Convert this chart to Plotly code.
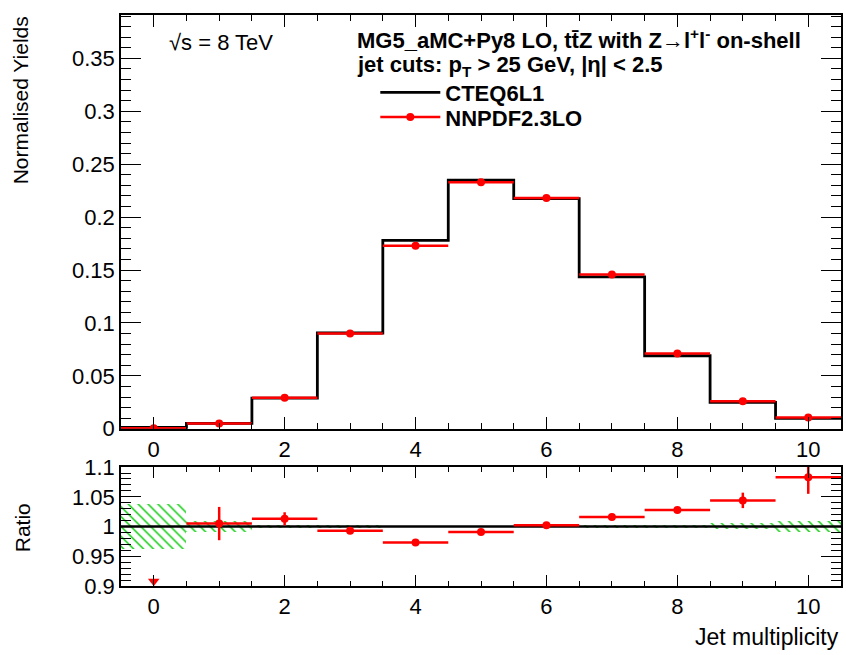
import numpy as np
import plotly.graph_objects as go

# ---------------- data ----------------
jet_mult = [0, 1, 2, 3, 4, 5, 6, 7, 8, 9, 10]
cteq6l1 = [0.0012, 0.0050, 0.0290, 0.0905, 0.1780, 0.2350, 0.2175, 0.1435, 0.0690, 0.0250, 0.0098]
nnpdf23lo = [0.0005, 0.0050, 0.0294, 0.0899, 0.1730, 0.2330, 0.2180, 0.1458, 0.0710, 0.0261, 0.0106]
ratio = [0.42, 1.005, 1.013, 0.993, 0.973, 0.991, 1.002, 1.016, 1.028, 1.044, 1.083]
ratio_err = [0.0, 0.028, 0.011, 0.002, 0.002, 0.002, 0.002, 0.002, 0.003, 0.013, 0.028]
band_err = [0.038, 0.010, 0.003, 0.002, 0.0015, 0.0015, 0.0015, 0.002, 0.003, 0.005, 0.010]
x_ticks = [0, 2, 4, 6, 8, 10]

# ---------------- geometry helpers ----------------
W, H = 846, 655
L, R, T, B = 121, 3, 5, 69
pw, ph = W - L - R, H - T - B
def px(x):
    return (x - L) / pw
def py(y):
    return (H - B - y) / ph

FONT = "Liberation Sans, Arial, sans-serif"
x = np.array(jet_mult, dtype=float)
edges = np.append(x - 0.5, x[-1] + 0.5)
black_step = np.append(cteq6l1, cteq6l1[-1])
ones_step = np.append(np.array(cteq6l1) / np.array(cteq6l1), 1.0)

ratio_lo, ratio_hi = 0.9, 1.1
r = np.array(ratio)
inside = r >= ratio_lo
below = r < ratio_lo

fig = go.Figure()

# top panel
fig.add_trace(go.Scatter(x=edges, y=black_step, mode="lines", line=dict(color="black", width=2.8, shape="hv"),
                         name="CTEQ6L1", xaxis="x", yaxis="y", legend="legend"))
fig.add_trace(go.Scatter(x=x, y=nnpdf23lo, mode="markers", marker=dict(color="red", size=8),
                         error_x=dict(type="constant", value=0.5, color="red", thickness=2.5, width=0),
                         name="NNPDF2.3LO", xaxis="x", yaxis="y", showlegend=False))
# legend proxy for red (line + marker)
fig.add_trace(go.Scatter(x=[None], y=[None], mode="lines+markers", marker=dict(color="red", size=8),
                         line=dict(color="red", width=2.5), name="NNPDF2.3LO", xaxis="x", yaxis="y",
                         legend="legend2"))

# ratio panel band
fig.add_trace(go.Bar(x=x, y=2 * np.array(band_err), base=1 - np.array(band_err), width=1.0,
                     marker=dict(color="rgba(0,0,0,0)", line=dict(width=0),
                                 pattern=dict(shape="\\", fgcolor="#00c800", bgcolor="rgba(0,0,0,0)",
                                              size=7, solidity=0.2, fillmode="overlay", fgopacity=1)),
                     xaxis="x2", yaxis="y2", showlegend=False, hoverinfo="skip"))
fig.add_trace(go.Scatter(x=edges, y=ones_step, mode="lines", line=dict(color="black", width=2.5, shape="hv"),
                         xaxis="x2", yaxis="y2", showlegend=False))
fig.add_trace(go.Scatter(x=x[inside], y=r[inside], mode="markers", marker=dict(color="red", size=8),
                         error_x=dict(type="constant", value=0.5, color="red", thickness=2.5, width=0),
                         error_y=dict(type="data", array=np.array(ratio_err)[inside], color="red", thickness=2.5, width=0),
                         xaxis="x2", yaxis="y2", showlegend=False))
fig.add_trace(go.Scatter(x=x[below], y=np.full(below.sum(), ratio_lo + 0.008), mode="markers",
                         marker=dict(color="red", size=10, symbol="triangle-down"),
                         xaxis="x2", yaxis="y2", showlegend=False, cliponaxis=False))

top_bottom = py(426)
ratio_top = py(465)

axis_common = dict(showline=True, linecolor="black", linewidth=1.6, mirror="ticks", ticks="inside",
                   tickcolor="black", tickwidth=1.2, showgrid=False, zeroline=False,
                   tickfont=dict(family=FONT, size=22, color="black"))

legend_common = dict(xanchor="left", yanchor="middle", bgcolor="rgba(0,0,0,0)",
                     font=dict(family=FONT, size=22, color="black", weight="bold"), itemwidth=60)

fig.update_layout(
    width=W, height=H, margin=dict(l=L, r=R, t=T, b=B),
    paper_bgcolor="white", plot_bgcolor="white",
    font=dict(family=FONT, color="black"),
    bargap=0,
    xaxis=dict(domain=[0, 1], anchor="y", range=[-0.5, 10.5], tickvals=x_ticks, ticklen=12,
               minor=dict(dtick=0.5, ticklen=6, ticks="inside", tickcolor="black", tickwidth=1.2),
               **axis_common),
    yaxis=dict(domain=[top_bottom, 1], anchor="x", range=[0, 0.391], dtick=0.05, ticklen=20,
               minor=dict(dtick=0.01, ticklen=10, ticks="inside", tickcolor="black", tickwidth=1.2),
               **axis_common),
    xaxis2=dict(domain=[0, 1], anchor="y2", range=[-0.5, 10.5], tickvals=x_ticks, ticklen=11,
                minor=dict(dtick=0.5, ticklen=5, ticks="inside", tickcolor="black", tickwidth=1.2),
                **axis_common),
    yaxis2=dict(domain=[0, ratio_top], anchor="x2", range=[ratio_lo, ratio_hi], dtick=0.05, ticklen=20,
                minor=dict(dtick=0.01, ticklen=10, ticks="inside", tickcolor="black", tickwidth=1.2),
                **axis_common),
    legend=dict(x=px(376), y=py(84), **legend_common),
    legend2=dict(x=px(376), y=py(109), **legend_common),
    showlegend=True,
)

ann = [
    dict(text="Normalised Yields", x=px(20), y=py(4), xanchor="center", yanchor="top", textangle=-90,
         font=dict(size=21)),
    dict(text="Ratio", x=px(22), y=py(527), xanchor="center", yanchor="middle", textangle=-90,
         font=dict(size=21)),
    dict(text="Jet multiplicity", x=px(843), y=py(638), xanchor="right", yanchor="middle",
         font=dict(size=23)),
    dict(text="√s = 8 TeV", x=px(167), y=py(33), xanchor="left", yanchor="middle",
         font=dict(size=22)),
    dict(text="<b>MG5_aMC+Py8 LO, tt\u0304Z with Z\u2192l<sup>+</sup>l<sup>-</sup> on-shell</b>",
         x=px(356), y=py(29), xanchor="left", yanchor="middle", font=dict(size=22)),
    dict(text="<b>jet cuts: p<sub>T</sub> > 25 GeV, |\u03b7| < 2.5</b>",
         x=px(356), y=py(57), xanchor="left", yanchor="middle", font=dict(size=22)),
]
for a in ann:
    a.update(xref="paper", yref="paper", showarrow=False)
    a["font"] = dict(family=FONT, color="black", **a["font"])
fig.update_layout(annotations=ann)

fig.write_html("out.html")
